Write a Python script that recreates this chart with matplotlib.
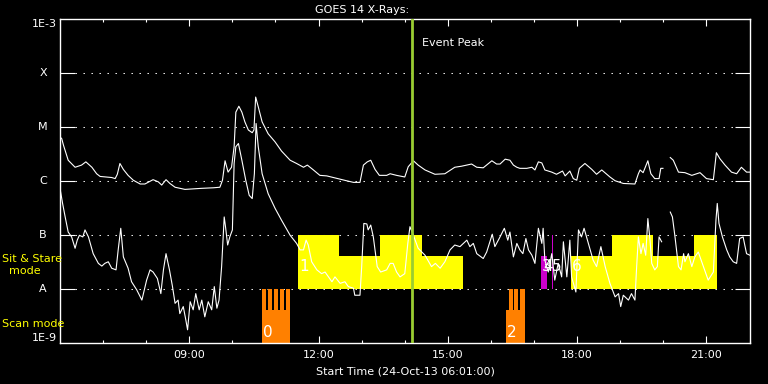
import numpy as np
import matplotlib
matplotlib.use("Agg")
import matplotlib.pyplot as plt
from matplotlib.transforms import blended_transform_factory

# ---------------- data ----------------
# long-wavelength channel (upper curve): hours UT, log10 flux (W/m^2)
long_t = [6.00, 6.04, 6.08, 6.19, 6.35, 6.50, 6.60, 6.74, 6.85, 6.93, 7.20, 7.28, 7.33, 7.39,
          7.47, 7.58, 7.70, 7.86, 7.97, 8.09, 8.16, 8.28, 8.36, 8.46, 8.55, 8.67, 8.90, 9.29,
          9.56, 9.71, 9.77, 9.83, 9.90, 9.98, 10.04, 10.08, 10.15, 10.22, 10.29, 10.37, 10.46,
          10.50, 10.54, 10.60, 10.69, 10.83, 10.99, 11.14, 11.34, 11.49, 11.65, 11.74, 11.88,
          12.03, 12.19, 12.34, 12.50, 12.65, 12.81, 12.96, 13.04, 13.13, 13.21, 13.31, 13.41,
          13.58, 13.66, 13.81, 14.00, 14.08, 14.20, 14.31, 14.47, 14.70, 14.93, 15.16, 15.32,
          15.55, 15.67, 15.82, 16.02, 16.13, 16.21, 16.33, 16.44, 16.52, 16.60, 16.67, 16.83,
          16.95, 17.02, 17.10, 17.18, 17.25, 17.41, 17.52, 17.66, 17.72, 17.83, 17.91, 17.99,
          18.05, 18.18, 18.34, 18.45, 18.57, 18.76, 18.88, 19.07, 19.34, 19.42, 19.46, 19.53,
          19.64, 19.71, 19.80, 19.90, 19.94, 19.99, 20.05, 20.16, 20.23, 20.35, 20.50, 20.66,
          20.85, 21.00, 21.16, 21.23, 21.31, 21.43, 21.58, 21.70, 21.81, 21.93, 22.01]
long_log = [-5.18, -5.21, -5.33, -5.61, -5.74, -5.70, -5.64, -5.74, -5.86, -5.91, -5.93, -5.95,
            -5.87, -5.67, -5.78, -5.89, -5.98, -6.05, -6.05, -6.00, -5.97, -6.01, -6.07, -5.97,
            -6.04, -6.11, -6.15, -6.13, -6.12, -6.11, -5.98, -5.62, -5.83, -5.74, -5.36, -4.72,
            -4.61, -4.72, -4.90, -5.05, -5.10, -5.05, -4.44, -4.62, -4.90, -5.12, -5.27, -5.44,
            -5.61, -5.67, -5.74, -5.70, -5.79, -5.89, -5.90, -5.93, -5.96, -5.99, -6.02, -6.02,
            -5.70, -5.64, -5.61, -5.78, -5.89, -5.89, -5.86, -5.89, -5.92, -5.73, -5.62, -5.70,
            -5.79, -5.87, -5.86, -5.74, -5.72, -5.68, -5.74, -5.75, -5.62, -5.68, -5.68, -5.59,
            -5.61, -5.70, -5.74, -5.76, -5.76, -5.74, -5.79, -5.64, -5.66, -5.79, -5.83, -5.87,
            -5.81, -5.90, -5.81, -5.95, -5.98, -5.76, -5.67, -5.78, -5.87, -5.79, -5.92, -5.99,
            -6.04, -6.05, -5.86, -5.79, -5.84, -5.62, -5.86, -5.95, -5.95, -5.76, -5.76, np.nan,
            -5.56, -5.61, -5.83, -5.84, -5.89, -5.84, -5.95, -5.97, -5.47, -5.58, -5.70, -5.83,
            -5.86, -5.74, -5.83, -5.83]

# short-wavelength channel (lower curve)
short_t = [6.00, 6.06, 6.12, 6.19, 6.27, 6.35, 6.40, 6.45, 6.53, 6.58, 6.66, 6.77, 6.89, 6.97,
           7.04, 7.12, 7.20, 7.30, 7.35, 7.41, 7.47, 7.58, 7.66, 7.78, 7.90, 8.01, 8.09, 8.16,
           8.26, 8.34, 8.40, 8.46, 8.54, 8.61, 8.67, 8.74, 8.78, 8.86, 8.92, 8.96, 9.02, 9.09,
           9.15, 9.23, 9.29, 9.36, 9.44, 9.52, 9.58, 9.64, 9.69, 9.75, 9.81, 9.84, 9.89, 9.94,
           10.00, 10.04, 10.08, 10.14, 10.22, 10.31, 10.39, 10.46, 10.51, 10.55, 10.60, 10.69,
           10.83, 10.99, 11.14, 11.34, 11.49, 11.57, 11.65, 11.71, 11.76, 11.84, 11.96, 12.07,
           12.15, 12.23, 12.31, 12.38, 12.50, 12.61, 12.69, 12.81, 12.84, 12.96, 13.00, 13.05,
           13.12, 13.15, 13.21, 13.27, 13.36, 13.44, 13.58, 13.66, 13.73, 13.81, 13.89, 14.00,
           14.07, 14.12, 14.20, 14.31, 14.47, 14.62, 14.71, 14.82, 14.93, 15.05, 15.16, 15.28,
           15.44, 15.51, 15.59, 15.67, 15.82, 15.90, 16.03, 16.09, 16.21, 16.31, 16.39, 16.44,
           16.52, 16.60, 16.67, 16.74, 16.81, 16.87, 16.95, 17.02, 17.10, 17.18, 17.21, 17.25,
           17.33, 17.41, 17.48, 17.56, 17.64, 17.68, 17.76, 17.83, 17.87, 17.97, 18.03, 18.10,
           18.16, 18.26, 18.37, 18.45, 18.55, 18.65, 18.76, 18.88, 18.96, 19.01, 19.07, 19.19,
           19.26, 19.34, 19.38, 19.42, 19.48, 19.53, 19.59, 19.64, 19.69, 19.73, 19.80, 19.86,
           19.90, 19.96, 20.05, 20.16, 20.21, 20.27, 20.35, 20.41, 20.47, 20.50, 20.58, 20.66,
           20.73, 20.81, 20.93, 21.04, 21.16, 21.22, 21.25, 21.29, 21.37, 21.47, 21.54, 21.62,
           21.70, 21.77, 21.85, 21.93, 22.01]
short_log = [-6.13, -6.41, -6.66, -6.94, -7.03, -7.24, -7.09, -7.00, -7.03, -6.90, -7.03, -7.34,
             -7.52, -7.57, -7.52, -7.49, -7.61, -7.64, -7.27, -6.87, -7.40, -7.61, -7.86, -8.01,
             -8.20, -7.83, -7.64, -7.68, -7.80, -8.08, -7.64, -7.34, -7.64, -7.95, -8.26, -8.20,
             -8.45, -8.32, -8.57, -8.75, -8.23, -8.38, -8.08, -8.38, -8.20, -8.51, -8.23, -8.38,
             -7.95, -8.35, -8.20, -7.58, -6.66, -6.84, -7.18, -7.03, -6.90, -5.67, -5.36, -5.30,
             -5.61, -5.98, -6.26, -6.32, -5.86, -4.93, -5.36, -5.86, -6.23, -6.50, -6.72, -7.00,
             -7.15, -7.27, -7.27, -7.09, -7.18, -7.49, -7.64, -7.71, -7.68, -7.77, -7.86, -7.77,
             -7.89, -7.86, -7.95, -7.98, -8.11, -8.11, -7.58, -6.78, -6.79, -6.90, -6.81, -7.03,
             -7.58, -7.68, -7.64, -7.52, -7.52, -7.68, -7.77, -7.71, -7.15, -6.84, -7.00, -7.24,
             -7.37, -7.58, -7.52, -7.61, -7.49, -7.27, -7.18, -7.21, -7.09, -7.21, -7.15, -7.34,
             -7.43, -7.31, -6.98, -7.21, -7.03, -6.87, -7.09, -6.94, -7.40, -7.15, -7.27, -7.34,
             -7.06, -7.27, -7.37, -7.52, -6.87, -7.15, -6.87, -7.46, -7.68, -7.34, -7.83, -7.52,
             -7.77, -7.12, -7.77, -7.09, -7.77, -8.05, -6.90, -7.03, -6.87, -7.15, -7.46, -7.58,
             -7.21, -7.58, -7.89, -8.14, -8.08, -8.32, -8.11, -8.20, -8.08, -8.20, -7.58, -7.03,
             -7.34, -7.15, -7.37, -6.69, -7.09, -7.52, -7.64, -7.58, -7.03, -7.12, np.nan, -6.57,
             -6.66, -7.03, -7.58, -7.64, -7.34, -7.49, -7.34, -7.58, -7.40, -7.31, -7.58, -7.83,
             -7.68, -6.72, -6.41, -6.78, -7.03, -7.27, -7.40, -7.49, -7.52, -7.06, -7.03, -7.34,
             -7.37]

# Sit & Stare observations (yellow)
sit_start = [11.53, 12.47, 13.42, 14.39, 17.86, 18.81, 19.75, 20.71]
sit_end = [12.47, 13.42, 14.39, 15.34, 18.81, 19.75, 20.71, 21.24]
sit_top = [1e-7, 4.1e-8, 1e-7, 4.1e-8, 4.1e-8, 1e-7, 4.1e-8, 1e-7]

# other Sit & Stare observations (magenta)
mag_start = [17.15, 17.415]
mag_end = [17.29, 17.435]
mag_top = [4.1e-8, 1e-7]

# Scan mode observations (orange): base blocks and teeth
scan_base_start = [10.69, 16.35]
scan_base_end = [11.34, 16.79]
scan_base_top = [4.1e-9, 4.1e-9]
scan_teeth_start = [10.69, 10.82, 10.96, 11.10, 11.24, 16.41, 16.54, 16.67]
scan_teeth_end = [10.77, 10.91, 11.05, 11.19, 11.34, 16.50, 16.63, 16.79]

# observation labels
obs_labels = ["0", "1", "2", "3", "4", "5", "6"]
obs_label_t = [10.72, 11.56, 16.38, 17.17, 17.22, 17.42, 17.88]
obs_label_f = [1.6e-9, 2.6e-8, 1.6e-9, 2.6e-8, 2.6e-8, 2.6e-8, 2.6e-8]

event_peak = 14.16

goes_levels = [1e-8, 1e-7, 1e-6, 1e-5, 1e-4]
goes_names = ["A", "B", "C", "M", "X"]
major_hours = [9, 12, 15, 18, 21]
major_labels = ["09:00", "12:00", "15:00", "18:00", "21:00"]
minor_hours = [7, 8, 10, 11, 13, 14, 16, 17, 19, 20, 22]

# ---------------- plot ----------------
plt.rcParams['font.family'] = ['DejaVu Sans']
FS = 8
fig = plt.figure(figsize=(7.68, 3.84), dpi=100, facecolor='black')
ax = fig.add_axes([60/768, 1-343.3/384, 690/768, 324/384], facecolor='black')
ax.set_yscale('log')
ax.set_xlim(6.0, 22.01)
ax.set_ylim(1e-9, 1e-3)

yellow = '#ffff00'
orange = '#ff8000'
magenta = '#cc00cc'

for s, e, tp in zip(sit_start, sit_end, sit_top):
    ax.bar(s, tp - 1e-8, width=e - s, bottom=1e-8, align='edge', color=yellow,
           linewidth=0, zorder=2)
for s, e, tp in zip(mag_start, mag_end, mag_top):
    ax.bar(s, tp - 1e-8, width=e - s, bottom=1e-8, align='edge', color=magenta,
           linewidth=0, zorder=2)
for s, e, tp in zip(scan_base_start, scan_base_end, scan_base_top):
    ax.bar(s, tp - 1e-9, width=e - s, bottom=1e-9, align='edge', color=orange,
           linewidth=0, zorder=2)
for s, e in zip(scan_teeth_start, scan_teeth_end):
    ax.bar(s, 1e-8 - 1e-9, width=e - s, bottom=1e-9, align='edge', color=orange,
           linewidth=0, zorder=2)

# dotted GOES level lines
xt = blended_transform_factory(ax.transAxes, ax.transData)
for lv in goes_levels:
    ax.plot([15/690, 675/690], [lv, lv], transform=xt, color='white', lw=0.75,
            dashes=(1.33, 6.35), zorder=1)

# curves
ax.plot(long_t, 10**np.array(long_log), color='white', lw=0.8, zorder=4)
ax.plot(short_t, 10**np.array(short_log), color='white', lw=0.8, zorder=4)

# event peak
ax.axvline(event_peak, color='#9acd32', lw=2.0, zorder=5)
ax.text(event_peak + 0.25, 10**-3.44, "Event Peak", color='white', fontsize=FS,
        va='center', ha='left')

for lbl, t, f in zip(obs_labels, obs_label_t, obs_label_f):
    ax.text(t, f, lbl, color='white', fontsize=11, ha='left', va='center', zorder=6)

# ticks
for sp in ax.spines.values():
    sp.set_color('white')
    sp.set_linewidth(1.0)
ax.set_xticks(major_hours)
ax.set_xticklabels(major_labels)
ax.set_xticks(minor_hours, minor=True)
ax.tick_params(axis='x', which='both', direction='in', colors='white', top=True,
               labelsize=FS, pad=5)
ax.tick_params(axis='x', which='major', length=4.8, width=0.8)
ax.tick_params(axis='x', which='minor', length=2.5, width=0.8)
ax.set_yticks(goes_levels)
ax.set_yticklabels([])
ax.yaxis.set_minor_locator(matplotlib.ticker.NullLocator())
ax.tick_params(axis='y', which='major', direction='in', colors='white', right=True,
               length=10.5, width=0.8)

# y labels
yl = blended_transform_factory(fig.transFigure, ax.transData)
for lv, nm in zip(goes_levels, goes_names):
    ax.text(43/768, lv, nm, transform=yl, color='white', fontsize=FS, ha='center',
            va='center')
ax.text(56.5/768, 1e-3, "1E-3", transform=yl, color='white', fontsize=FS, ha='right',
        va='top')
ax.text(56.5/768, 1e-9, "1E-9", transform=yl, color='white', fontsize=FS, ha='right',
        va='bottom')

fig.text(2/768, 1-259/384, "Sit & Stare", color=yellow, fontsize=FS, ha='left', va='center')
fig.text(24.5/768, 1-271/384, "mode", color=yellow, fontsize=FS, ha='center', va='center')
fig.text(2/768, 1-324/384, "Scan mode", color=yellow, fontsize=FS, ha='left', va='center')

fig.text(362/768, 1-10/384, "GOES 14 X-Rays:", color='white', fontsize=FS, ha='center',
         va='center')
fig.text(405/768, 1-371/384, "Start Time (24-Oct-13 06:01:00)", color='white', fontsize=FS,
         ha='center', va='center')

fig.savefig("out.png", dpi=100, facecolor='black')
